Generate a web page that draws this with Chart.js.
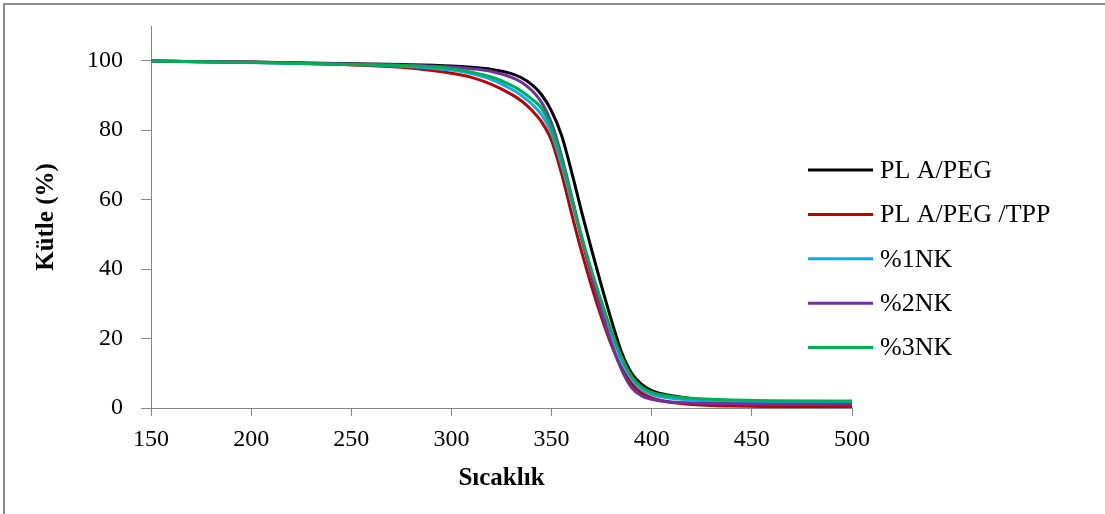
<!DOCTYPE html>
<html lang="tr">
<head>
  <meta charset="UTF-8">
  <title>TGA - Kütle kaybı</title>
  <script src="https://cdn.jsdelivr.net/npm/chart.js"></script>
  <style>
    html, body { margin: 0; padding: 0; background: #fff; }
    #tga { display: block; }
  </style>
</head>
<body>
  <canvas id="tga" width="1105" height="514"></canvas>
  <script>
    // sıcaklık noktaları (°C)
    const temps = [150, 200, 250, 275, 300, 310, 320, 330, 335, 340, 345, 350, 355, 360, 365, 370, 375, 380, 385, 390, 395, 400, 405, 410, 420, 430, 440, 460, 500];
    // kütle (%)
    const plaPeg    = [99.9, 99.6, 99.1, 98.9, 98.5, 98.1, 97.5, 96.3, 95.1, 93.2, 90.2, 85.5, 78.5, 68, 56.5, 45.5, 35, 25, 16, 10, 6.8, 5.0, 4.1, 3.5, 2.7, 2.1, 1.7, 1.3, 1.0];
    const plaPegTpp = [99.9, 99.5, 98.8, 98.1, 96.4, 95.2, 93.2, 90.3, 88.4, 85.8, 82.4, 77, 67.5, 56, 45, 35, 26, 18, 11.5, 7, 4.3, 2.9, 2.1, 1.6, 1.0, 0.7, 0.55, 0.4, 0.3];
    const nk1       = [99.9, 99.5, 98.9, 98.4, 97.3, 96.3, 94.6, 91.8, 90, 87.6, 84.5, 79, 70, 59.5, 48.5, 38.5, 29.5, 21, 13.5, 8.3, 5.3, 3.9, 3.2, 2.8, 2.3, 2.0, 1.9, 1.8, 1.7];
    const nk2       = [99.9, 99.6, 99.0, 98.8, 98.2, 97.7, 96.9, 95.2, 93.8, 91.5, 88, 82, 72.5, 61, 49, 38, 27.5, 18.5, 11, 5.8, 3.5, 2.5, 2.0, 1.7, 1.45, 1.3, 1.2, 1.1, 1.1];
    const nk3       = [99.9, 99.5, 98.9, 98.6, 97.7, 96.7, 95.3, 92.9, 91.2, 89, 86.3, 80.5, 71.5, 60.5, 49.5, 39.5, 30.5, 22, 14.5, 9, 6, 4.5, 3.8, 3.3, 2.8, 2.5, 2.3, 2.1, 2.0];

    const seriesNames = ['PL A/PEG', 'PL A/PEG /TPP', '%1NK', '%2NK', '%3NK'];
    const seriesColors = ['#000000', '#C00000', '#00B0F0', '#7030A0', '#00B050'];
    const seriesData = [plaPeg, plaPegTpp, nk1, nk2, nk3];
    const yTicks = [0, 20, 40, 60, 80, 100];

    const axisGray = '#868686';
    const serif = "'Liberation Serif', 'Times New Roman', serif";

    const datasets = seriesData.map((vals, i) => ({
      label: seriesNames[i],
      data: temps.map((t, k) => ({ x: t, y: vals[k] })),
      borderColor: seriesColors[i],
      backgroundColor: seriesColors[i],
      borderWidth: 3,
      pointRadius: 0,
      cubicInterpolationMode: 'monotone',
      order: seriesData.length - i // son seri en üstte
    }));

    // çerçeve + sağdaki açıklama (grafiğin üstüne biniyor)
    const frameAndLegend = {
      id: 'frameAndLegend',
      beforeDraw(chart) {
        const ctx = chart.ctx;
        ctx.save();
        ctx.fillStyle = '#fff';
        ctx.fillRect(0, 0, chart.width, chart.height);
        ctx.strokeStyle = '#8c8c8c';
        ctx.lineWidth = 2;
        ctx.beginPath();
        ctx.moveTo(4, chart.height);
        ctx.lineTo(4, 4);
        ctx.lineTo(chart.width, 4);
        ctx.stroke();
        ctx.restore();
      },
      afterDraw(chart) {
        const ctx = chart.ctx;
        ctx.save();
        ctx.font = '26px ' + serif;
        ctx.textBaseline = 'middle';
        ctx.textAlign = 'left';
        chart.data.datasets.forEach((ds, i) => {
          const y = 170 + i * 44.4;
          ctx.strokeStyle = ds.borderColor;
          ctx.lineWidth = 3;
          ctx.beginPath();
          ctx.moveTo(808, y);
          ctx.lineTo(873, y);
          ctx.stroke();
          ctx.fillStyle = '#000';
          ctx.fillText(ds.label, 880, y + 1);
        });
        ctx.restore();
      }
    };

    new Chart(document.getElementById('tga'), {
      type: 'line',
      data: { datasets: datasets },
      plugins: [frameAndLegend],
      options: {
        responsive: false,
        animation: false,
        layout: { padding: { top: 26, right: 253, left: 10, bottom: 0 } },
        plugins: { legend: { display: false }, tooltip: { enabled: false } },
        scales: {
          x: {
            type: 'linear',
            min: 150, max: 500,
            ticks: { stepSize: 50, color: '#000', padding: 9, font: { family: serif, size: 24 } },
            grid: { drawOnChartArea: false, drawTicks: true, tickLength: 8, color: axisGray },
            border: { color: axisGray, width: 1 },
            title: { display: true, text: 'Sıcaklık', color: '#000', padding: { top: 0, bottom: 20 }, font: { family: serif, size: 25, weight: 'bold' } },
            afterFit: s => { s.height = 514 - 408; s.paddingTop = 0; s.paddingBottom = 0; }
          },
          y: {
            min: 0, max: 110,
            afterBuildTicks: s => { s.ticks = yTicks.map(v => ({ value: v })); },
            ticks: { color: '#000', padding: 18, font: { family: serif, size: 24 } },
            grid: { drawOnChartArea: false, drawTicks: true, tickLength: 10, color: axisGray },
            border: { color: axisGray, width: 1 },
            title: { display: true, text: 'Kütle (%)', color: '#000', padding: { top: 22, bottom: 0 }, font: { family: serif, size: 25, weight: 'bold' } },
            afterFit: s => { s.width = 151 - 10; s.paddingTop = 0; s.paddingBottom = 0; }
          }
        }
      }
    });
  </script>
</body>
</html>
